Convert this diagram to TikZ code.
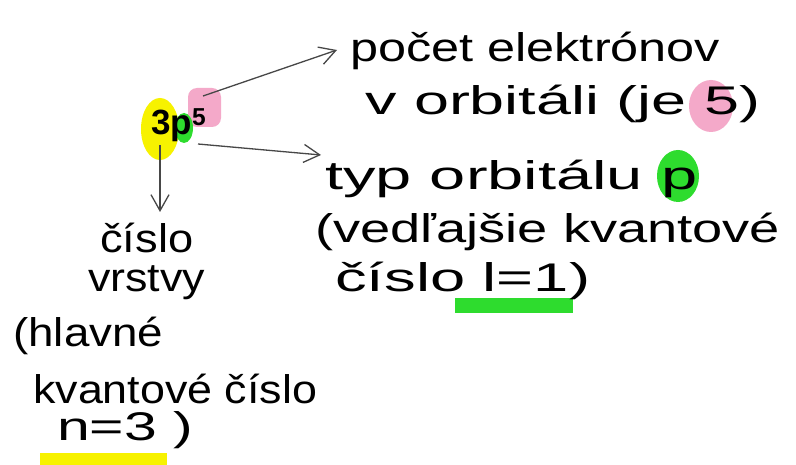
\documentclass[tikz,border=0pt]{standalone}
\usepackage{fontspec}
\setmainfont{Liberation Sans}
\usetikzlibrary{arrows.meta}
\newcommand{\handline}[2]{\resizebox{#1}{\height}{#2}}
\definecolor{hlyellow}{HTML}{F7F200}
\definecolor{hlgreen}{HTML}{2EDC2E}
\definecolor{hlpink}{HTML}{F4A9C9}
\begin{document}
\begin{tikzpicture}[x=1pt,y=-1pt,
  hand/.style={anchor=base west, inner sep=0pt, font=\fontsize{40}{46}\selectfont},
  arr/.style={draw=black!72, line width=1.3pt, -{Straight Barb[length=16pt,width=18pt,line width=1.3pt]}}]
\path[use as bounding box, fill=white] (0,0) rectangle (796,465);
% highlight blobs
\fill[hlyellow] (160,129) ellipse [x radius=19, y radius=31];
\fill[hlpink, rounded corners=9pt] (188,88) rectangle (221,127);
\fill[hlgreen] (184,128) ellipse [x radius=9, y radius=15];
\fill[hlpink] (711,106) ellipse [x radius=22, y radius=26];
\fill[hlgreen] (678,176) ellipse [x radius=21, y radius=26];
\fill[hlgreen] (455,298) rectangle (573,313);
\fill[hlyellow] (40,453) rectangle (167,465);
% core label
\node[anchor=base west, inner sep=0pt, font=\fontsize{35}{40}\selectfont\bfseries] (core) at (151,135) {3p\textsuperscript{5}};
% right texts
\node[hand] (a1) at (350,62) {\handline{370pt}{počet elektrónov}};
\node[hand] (a2) at (365,115) {\handline{395pt}{v orbitáli (je 5)}};
\node[hand] (b1) at (325,190) {\handline{372pt}{typ orbitálu p}};
\node[hand] (b2) at (315,243) {\handline{465pt}{(vedľajšie kvantové}};
\node[hand] (b3) at (335,292) {\handline{255pt}{číslo l=1)}};
% left texts
\node[hand] (c1) at (100,253) {\handline{93pt}{číslo}};
\node[hand] (c2) at (88,292) {\handline{117pt}{vrstvy}};
\node[hand] (c3) at (13,347) {\handline{150pt}{(hlavné}};
\node[hand] (c4) at (33,403) {\handline{284pt}{kvantové číslo}};
\node[hand] (c5) at (57,440) {\handline{136pt}{n=3 )}};
% arrows
\coordinate (s5) at (203,96);
\coordinate (sp) at (198,144);
\coordinate (s3) at (160,145);
\coordinate (e1) at (337,50);
\coordinate (e2) at (321,155);
\coordinate (e3) at (160,212);
\draw[arr] (s5) -- (e1);
\draw[arr] (sp) -- (e2);
\draw[arr] (s3) -- (e3);
\end{tikzpicture}
\end{document}
